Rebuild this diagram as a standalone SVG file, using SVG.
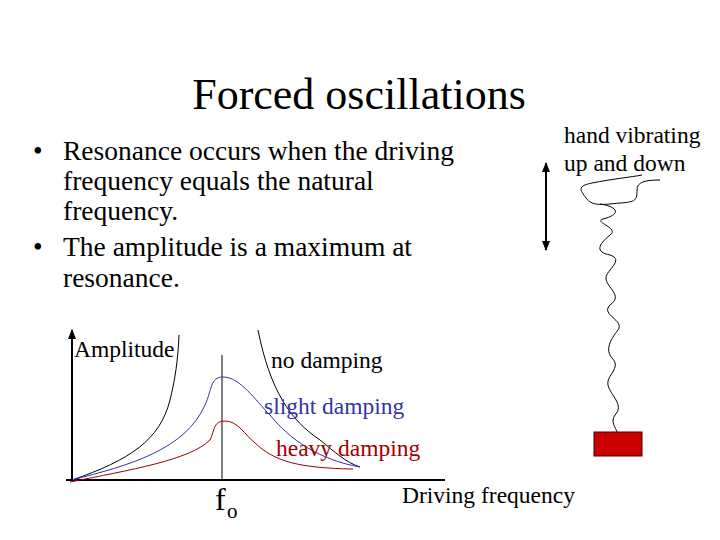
<svg xmlns="http://www.w3.org/2000/svg" width="720" height="540" viewBox="0 0 720 540">
<style>
text{font-family:"Liberation Serif","Times New Roman",serif;fill:#000}
.l text{font-size:23.5px}
.c{fill:none;stroke-width:1}
</style>
<defs>
<marker id="ah" viewBox="0 0 10 10" refX="9" refY="5" markerWidth="5" markerHeight="5" orient="auto-start-reverse"><path d="M0,1 L10,5 L0,9 z" fill="#000"/></marker>
</defs>
<rect width="720" height="540" fill="#fff"/>
<g id="title"><text x="359" y="109" font-size="44" text-anchor="middle">Forced oscillations</text></g>
<g id="bullets" font-family="Liberation Serif, serif" font-size="27.5">
<text x="33" y="160" font-family="Liberation Serif, serif">•</text><text x="63" y="160" font-family="Liberation Serif, serif">Resonance occurs when the driving</text>
<text x="63" y="190" font-family="Liberation Serif, serif">frequency equals the natural</text>
<text x="63" y="220" font-family="Liberation Serif, serif">frequency.</text>
<text x="33" y="256" font-family="Liberation Serif, serif">•</text><text x="63" y="256" font-family="Liberation Serif, serif">The amplitude is a maximum at</text>
<text x="63" y="287" font-family="Liberation Serif, serif">resonance.</text>
</g>
<g id="connectors">
<line x1="72" y1="480" x2="72" y2="330" stroke="#000" stroke-width="2" marker-end="url(#ah)"/>
<line x1="66" y1="480" x2="445" y2="480" stroke="#000" stroke-width="2"/>
<line x1="222" y1="355" x2="222" y2="480" stroke="#000"/>
<line x1="546" y1="163" x2="546" y2="250" stroke="#000" stroke-width="2" marker-start="url(#ah)" marker-end="url(#ah)"/>
</g>
<g id="curves">
<path class="c" stroke="#000" d="M72,480 C130,460 160,440 170,400 C175,380 178,360 179,335"/>
<path class="c" stroke="#000" d="M258,330 C270,390 290,420 320,440 C335,452 345,462 360,467"/>
<path class="c" stroke="#3333aa" d="M72,480 C130,465 185,450 205,405 C212,390 210,377 223,377 C240,377 255,400 270,415 C290,440 320,460 360,467"/>
<path class="c" stroke="#a00000" d="M70,482 C130,470 190,460 210,440 C215,430 213,421 225,421 C238,421 245,435 255,443 C275,462 300,468 353,469"/>
</g>
<g id="labels" class="l">
<text x="74" y="357">Amplitude</text>
<text x="271" y="368">no damping</text>
<text x="264" y="414" style="fill:#3333aa">slight damping</text>
<text x="276" y="456" style="fill:#a00000">heavy damping</text>
<text x="402" y="503">Driving frequency</text>
<text x="564" y="143">hand vibrating</text>
<text x="564" y="171">up and down</text>
</g>
<g id="fo"><text x="215" y="510" font-size="32">f</text><text x="227" y="518" font-size="21">o</text></g>
<g id="spring">
<path class="c" stroke="#000" d="M660,180 C645,180 637,182 637,190 C637,200 636,202 620,203 C600,205 592,206 586,198 C580,190 577,186 592,183 C612,179 632,177 642,175 M600,204 C620,207 620,215 603,219 C593,222 620,228 610,235 C598,245 595,252 610,255 C625,260 606,270 606,278 C606,288 624,295 610,305 C600,315 625,320 618,330 C610,340 605,350 612,358 C622,368 606,375 608,385 C610,395 625,405 615,415 C610,422 616,428 617,432"/>
</g>
<g id="mass"><rect x="594" y="432" width="48" height="24" fill="#cc0000" stroke="#400" stroke-width="1"/></g>
</svg>
